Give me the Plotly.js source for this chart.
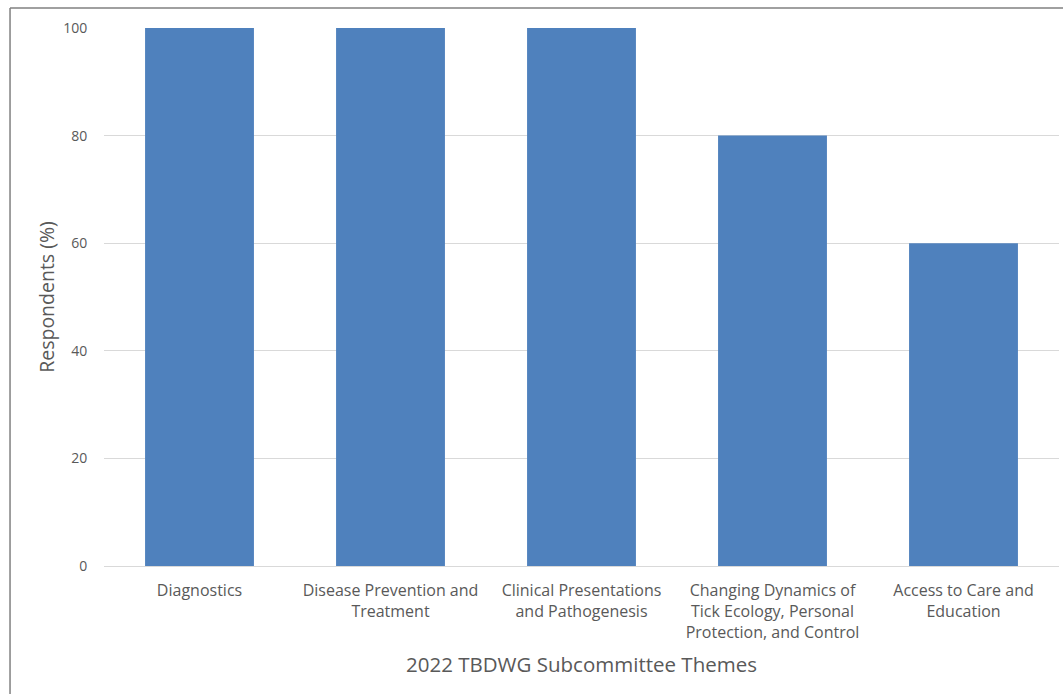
<!DOCTYPE html>
<html>
<head>
<meta charset="utf-8">
<script src="https://cdn.plot.ly/plotly-3.0.1.min.js"></script>
<style>html,body{margin:0;padding:0;background:#fff;}#chart{width:1063px;height:694px;}</style>
</head>
<body>
<div id="chart"></div>
<script>
const categories = [
  "Diagnostics",
  "Disease Prevention and<br>Treatment",
  "Clinical Presentations<br>and Pathogenesis",
  "Changing Dynamics of<br>Tick Ecology, Personal<br>Protection, and Control",
  "Access to Care and<br>Education"
];
const respondents = [100, 100, 100, 80, 60];
const yTicks = [0, 20, 40, 60, 80, 100];

const trace = {
  type: "bar",
  x: categories,
  y: respondents,
  marker: {color: "#4f81bd"},
  width: 0.57,
  hoverinfo: "x+y"
};

const layout = {
  width: 1063,
  height: 694,
  margin: {l: 104, r: 4, t: 28, b: 128},
  paper_bgcolor: "#ffffff",
  plot_bgcolor: "#ffffff",
  showlegend: false,
  font: {family: "Open Sans, sans-serif", color: "#595959"},
  xaxis: {
    type: "category",
    showgrid: false,
    showline: false,
    zeroline: false,
    ticks: "outside",
    ticklen: 10,
    tickcolor: "rgba(0,0,0,0)",
    tickfont: {size: 16, color: "#595959"},
    title: {text: "2022 TBDWG Subcommittee Themes", font: {size: 20.5, color: "#595959"}, standoff: 15}
  },
  yaxis: {
    range: [0, 100],
    tickvals: yTicks,
    ticktext: yTicks.map(String),
    showgrid: true,
    gridcolor: "#d9d9d9",
    gridwidth: 1,
    zeroline: true,
    zerolinecolor: "#d9d9d9",
    zerolinewidth: 1,
    showline: false,
    ticks: "outside",
    ticklen: 13,
    tickcolor: "rgba(0,0,0,0)",
    tickfont: {size: 14, color: "#595959"},
    title: {text: "Respondents (%)", font: {size: 19.5, color: "#595959"}, standoff: 3}
  },
  shapes: [
    {type: "line", xref: "paper", yref: "paper", x0: -0.0984, x1: -0.0984, y0: 1.0372, y1: -0.3, line: {color: "#808080", width: 1.5}},
    {type: "line", xref: "paper", yref: "paper", x0: -0.0984, x1: 1.01, y0: 1.0372, y1: 1.0372, line: {color: "#808080", width: 1.5}}
  ]
};

Plotly.newPlot("chart", [trace], layout, {displayModeBar: false, staticPlot: false});
</script>
</body>
</html>
